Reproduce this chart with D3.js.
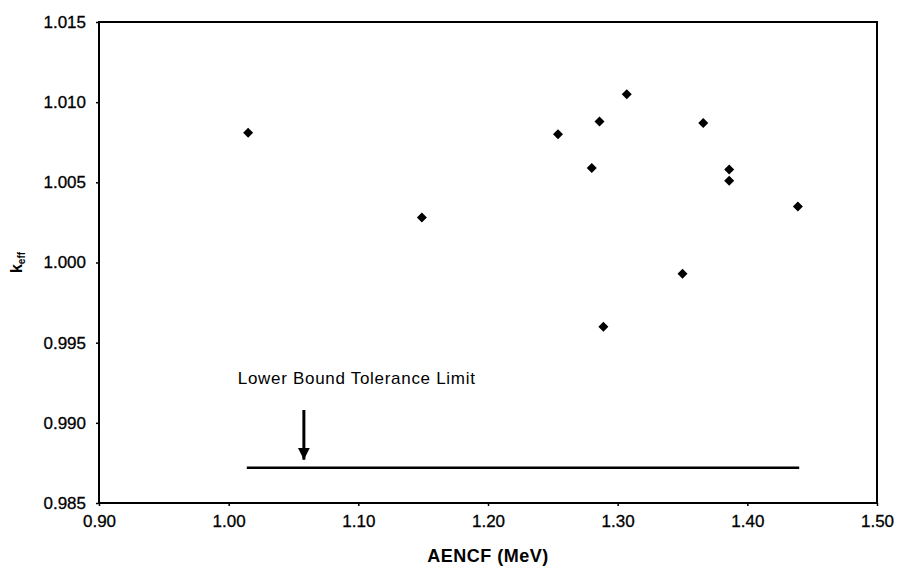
<!DOCTYPE html>
<html>
<head>
<meta charset="utf-8">
<script src="https://cdn.jsdelivr.net/npm/d3@7"></script>
<style>
  body { margin: 0; background: #fff; }
  text { font-family: Arial, "Liberation Sans", sans-serif; fill: #000; }
</style>
</head>
<body>
<div id="chart"></div>
<script>
const width = 898;
const height = 571;
const margin = { top: 22, right: 21, bottom: 68, left: 99 };

// AENCF (MeV) vs k_eff
const aencf = [1.015, 1.149, 1.254, 1.280, 1.286, 1.289, 1.307, 1.350, 1.366, 1.386, 1.386, 1.439];
const keff  = [1.0081, 1.0028, 1.0080, 1.0059, 1.0088, 0.9960, 1.0105, 0.9993, 1.0087, 1.0058, 1.0051, 1.0035];

const xTicks = [0.90, 1.00, 1.10, 1.20, 1.30, 1.40, 1.50];
const yTicks = [0.985, 0.990, 0.995, 1.000, 1.005, 1.010, 1.015];

// lower bound tolerance limit
const lowerBound = 0.9872;
const lowerBoundSpan = [1.014, 1.440];
const arrowX = 1.058;
const arrowY = [0.9908, 0.9877];
const labelPos = [1.007, 0.99243];

const innerW = width - margin.left - margin.right;
const innerH = height - margin.top - margin.bottom;

const svg = d3.select('#chart')
  .append('svg')
  .attr('width', width)
  .attr('height', height);

const g = svg.append('g')
  .attr('transform', `translate(${margin.left}, ${margin.top})`);

const x = d3.scaleLinear().domain([0.90, 1.50]).range([0, innerW]);
const y = d3.scaleLinear().domain([0.985, 1.015]).range([innerH, 0]);

// frame
g.append('rect')
  .attr('width', innerW)
  .attr('height', innerH)
  .attr('fill', 'none')
  .attr('stroke', '#000')
  .attr('stroke-width', 2);

// axes
const xAxis = g.append('g')
  .attr('transform', `translate(0,${innerH})`)
  .call(d3.axisBottom(x).tickValues(xTicks).tickFormat(d3.format('.2f')).tickSize(3).tickPadding(9));

const yAxis = g.append('g')
  .call(d3.axisLeft(y).tickValues(yTicks).tickFormat(d3.format('.3f')).tickSize(3).tickPadding(10));

[xAxis, yAxis].forEach(a => {
  a.select('.domain').remove();
  a.selectAll('line').attr('stroke', '#000').attr('stroke-width', 1.5);
  a.selectAll('text')
    .attr('font-size', '17px')
    .attr('font-family', 'Arial, "Liberation Sans", sans-serif')
    .attr('fill', '#000')
    .style('stroke', '#000')
    .style('stroke-width', 0.3);
});

// lower bound line
g.append('line')
  .attr('x1', x(lowerBoundSpan[0]))
  .attr('x2', x(lowerBoundSpan[1]))
  .attr('y1', y(lowerBound))
  .attr('y2', y(lowerBound))
  .attr('stroke', '#000')
  .attr('stroke-width', 2.5);

// arrow
svg.append('defs').append('marker')
  .attr('id', 'head')
  .attr('viewBox', '0 0 10 10')
  .attr('refX', 10)
  .attr('refY', 5)
  .attr('markerWidth', 4)
  .attr('markerHeight', 4)
  .attr('markerUnits', 'strokeWidth')
  .attr('orient', 'auto')
  .append('path')
  .attr('d', 'M0,0 L10,5 L0,10 Z')
  .attr('fill', '#000');

g.append('line')
  .attr('x1', x(arrowX))
  .attr('x2', x(arrowX))
  .attr('y1', y(arrowY[0]))
  .attr('y2', y(arrowY[1]))
  .attr('stroke', '#000')
  .attr('stroke-width', 3)
  .attr('marker-end', 'url(#head)');

g.append('text')
  .attr('x', x(labelPos[0]))
  .attr('y', y(labelPos[1]))
  .attr('font-size', '17px')
  .attr('letter-spacing', '0.7px')
  .text('Lower Bound Tolerance Limit');

// points
g.selectAll('path.pt')
  .data(aencf.map((d, i) => [d, keff[i]]))
  .join('path')
  .attr('class', 'pt')
  .attr('d', d3.symbol(d3.symbolSquare, 50))
  .attr('transform', d => `translate(${x(d[0])},${y(d[1])}) rotate(45)`)
  .attr('fill', '#000');

// axis titles
svg.append('text')
  .attr('x', margin.left + innerW / 2)
  .attr('y', 562)
  .attr('text-anchor', 'middle')
  .attr('font-size', '18px')
  .attr('font-weight', 'bold')
  .attr('letter-spacing', '0.5px')
  .text('AENCF (MeV)');

const yt = svg.append('text')
  .attr('transform', `translate(22, ${margin.top + y(1.000)}) rotate(-90)`)
  .attr('text-anchor', 'middle')
  .attr('font-size', '16px')
  .attr('font-weight', 'bold');
yt.append('tspan').text('k');
yt.append('tspan').attr('font-size', '10px').attr('dy', 3).text('eff');
</script>
</body>
</html>
